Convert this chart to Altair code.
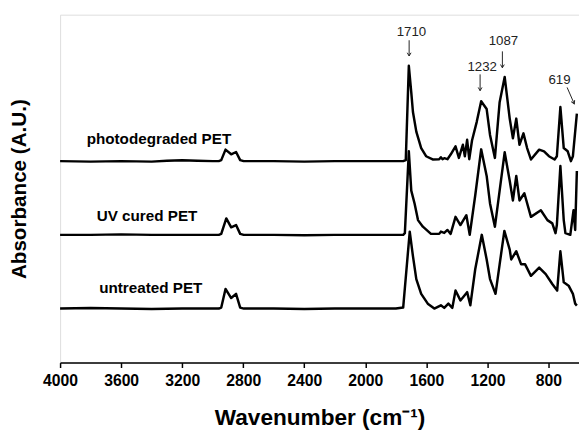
import altair as alt
import pandas as pd

FONT = "Liberation Sans"

# ---- spectra (wavenumber in cm-1, absorbance offset in arbitrary units) ----
wn_photo = [4000, 3800, 3600, 3400, 3300, 3200, 3100, 3000, 2960, 2944, 2916, 2879, 2847, 2820, 2797,
            2600, 2400, 2200, 2000, 1800, 1752, 1735, 1715, 1699, 1688, 1666, 1634, 1602, 1559, 1516,
            1505, 1494, 1483, 1462, 1441, 1409, 1387, 1361, 1348, 1333, 1319, 1301, 1270, 1241, 1205,
            1183, 1151, 1120, 1087, 1054, 1033, 1011, 990, 964, 940, 915, 861, 829, 797, 760, 745,
            722, 700, 674, 653, 640, 614]
abs_photo = [2.05, 2.045, 2.05, 2.045, 2.055, 2.06, 2.055, 2.05, 2.05, 2.06, 2.167, 2.12, 2.143, 2.06, 2.05,
             2.05, 2.045, 2.05, 2.05, 2.05, 2.05, 2.06, 3.02, 2.75, 2.55, 2.35, 2.183, 2.10, 2.067, 2.07,
             2.09, 2.07, 2.08, 2.07, 2.117, 2.20, 2.083, 2.217, 2.10, 2.267, 2.07, 2.26, 2.45, 2.66, 2.58,
             2.317, 2.083, 2.65, 2.907, 2.483, 2.283, 2.483, 2.217, 2.333, 2.183, 2.067, 2.167, 2.15, 2.10,
             2.067, 2.10, 2.60, 2.183, 2.15, 2.05, 2.10, 2.533]

wn_uv = [4000, 3800, 3600, 3400, 3200, 3000, 2960, 2944, 2911, 2879, 2847, 2820, 2797, 2600, 2400,
         2200, 2000, 1800, 1752, 1741, 1715, 1699, 1677, 1655, 1623, 1570, 1516, 1505, 1483, 1462,
         1441, 1409, 1377, 1338, 1316, 1280, 1241, 1205, 1183, 1151, 1120, 1087, 1054, 1033, 1011,
         990, 958, 915, 850, 807, 775, 754, 745, 722, 700, 689, 657, 636, 625, 614]
abs_uv = [1.30, 1.30, 1.305, 1.30, 1.30, 1.30, 1.30, 1.31, 1.467, 1.377, 1.40, 1.31, 1.30, 1.30, 1.295,
          1.30, 1.30, 1.30, 1.30, 1.317, 2.15, 1.75, 1.617, 1.45, 1.383, 1.31, 1.31, 1.333, 1.32, 1.35,
          1.31, 1.483, 1.40, 1.50, 1.30, 1.70, 2.17, 1.90, 1.62, 1.383, 1.75, 2.14, 1.85, 1.65, 1.90,
          1.65, 1.723, 1.483, 1.55, 1.45, 1.417, 1.317, 1.40, 2.00, 1.45, 1.317, 1.30, 1.55, 1.35, 1.95]

wn_untreated = [4000, 3800, 3600, 3400, 3200, 3000, 2960, 2944, 2916, 2879, 2847, 2820, 2796, 2600, 2400,
                2200, 2000, 1800, 1752, 1709, 1688, 1666, 1634, 1591, 1548, 1505, 1483, 1456, 1430,
                1409, 1377, 1333, 1312, 1280, 1237, 1205, 1183, 1147, 1120, 1089, 1054, 1044, 1011,
                979, 953, 915, 861, 818, 775, 743, 722, 700, 668, 640, 625, 614]
abs_untreated = [0.55, 0.555, 0.55, 0.545, 0.55, 0.55, 0.55, 0.56, 0.75, 0.657, 0.70, 0.56, 0.55, 0.55, 0.545,
                 0.55, 0.55, 0.55, 0.56, 1.333, 1.083, 0.85, 0.70, 0.60, 0.55, 0.583, 0.557, 0.60, 0.557,
                 0.733, 0.633, 0.717, 0.583, 0.95, 1.30, 1.05, 0.85, 0.70, 1.00, 1.34, 1.15, 1.05, 1.133,
                 1.00, 1.00, 0.883, 0.967, 0.90, 0.80, 0.733, 1.133, 0.817, 0.783, 0.70, 0.60, 0.58]

series_names = ["photodegraded PET", "UV cured PET", "untreated PET"]

# ---- series labels ----
label_text = ["photodegraded PET", "UV cured PET", "untreated PET"]
label_wn = [3826, 3760, 3744]
label_abs = [2.22, 1.44, 0.71]

# ---- peak annotations ----
peak_text = ["1710", "1232", "1087", "619"]
peak_text_wn = [1698, 1234, 1095, 728]
peak_text_abs = [3.32, 2.97, 3.233, 2.84]
arrow_wn1 = [1713, 1248, 1102, 678]
arrow_abs1 = [3.28, 2.933, 3.167, 2.80]
arrow_wn2 = [1713, 1248, 1102, 631]
arrow_abs2 = [3.12, 2.767, 3.00, 2.633]
arrow_angle = [0, 0, 0, 336]

rows = []
for name, ws, vs in zip(series_names, [wn_photo, wn_uv, wn_untreated],
                        [abs_photo, abs_uv, abs_untreated]):
    for w, v in zip(ws, vs):
        rows.append({"series": name, "wavenumber": w, "absorbance": v})
df = pd.DataFrame(rows)

df_labels = pd.DataFrame({"text": label_text, "wavenumber": label_wn, "absorbance": label_abs})
df_peaks = pd.DataFrame({"text": peak_text, "wavenumber": peak_text_wn, "absorbance": peak_text_abs})
df_arrows = pd.DataFrame({"wavenumber": arrow_wn1, "absorbance": arrow_abs1,
                          "wavenumber2": arrow_wn2, "absorbance2": arrow_abs2,
                          "angle": arrow_angle})

x_scale = alt.Scale(domain=[4000, 600], nice=False, zero=False)
y_scale = alt.Scale(domain=[0, 3.54], nice=False, zero=False)

x_axis = alt.Axis(values=[4000, 3600, 3200, 2800, 2400, 2000, 1600, 1200, 800],
                  format="d", grid=False, domain=True, domainColor="black", domainWidth=1.5,
                  ticks=True, tickColor="black", tickWidth=1.5, tickSize=5,
                  labelFont=FONT, labelFontSize=16, labelFontWeight="bold", labelColor="black",
                  labelPadding=5, labelFlush=False, labelOverlap=False,
                  titleFont=FONT, titleFontSize=23, titleFontWeight="bold", titleColor="black",
                  titlePadding=19)
y_axis = alt.Axis(labels=False, ticks=False, grid=False, domain=False,
                  titleFont=FONT, titleFontSize=21, titleFontWeight="bold", titleColor="black",
                  titlePadding=31)

X = alt.X("wavenumber:Q", scale=x_scale, axis=x_axis, title="Wavenumber (cm⁻¹)")
Y = alt.Y("absorbance:Q", scale=y_scale, axis=y_axis, title="Absorbance (A.U.)")

lines = alt.Chart(df).mark_line(color="black", strokeWidth=2.5, strokeJoin="round").encode(
    x=X, y=Y, detail="series:N"
)

labels = alt.Chart(df_labels).mark_text(
    align="left", baseline="alphabetic", font=FONT, fontSize=15.5, fontWeight="bold", color="black"
).encode(x=X, y=Y, text="text:N")

peaks = alt.Chart(df_peaks).mark_text(
    align="center", baseline="alphabetic", font=FONT, fontSize=13.5, color="#222222"
).encode(x=X, y=Y, text="text:N")

arrows = alt.Chart(df_arrows).mark_rule(color="#222222", strokeWidth=1).encode(
    x=X, y=Y, x2="wavenumber2:Q", y2="absorbance2:Q"
)

heads = alt.Chart(df_arrows).mark_point(
    shape="M -0.7 -1.2 L 0 0 L 0.7 -1.2", filled=False, color="#222222", strokeWidth=1,
    size=30, opacity=1
).encode(
    x=alt.X("wavenumber2:Q", scale=x_scale, axis=x_axis, title="Wavenumber (cm⁻¹)"),
    y=alt.Y("absorbance2:Q", scale=y_scale, axis=y_axis, title="Absorbance (A.U.)"),
    angle=alt.Angle("angle:Q", scale=None),
)

chart = alt.layer(lines, labels, peaks, arrows, heads).properties(
    width=528, height=354,
    autosize=alt.AutoSizeParams(type="none"),
    padding={"left": 53, "top": 3, "right": 0, "bottom": 80},
).configure_view(stroke="black", strokeWidth=1.5).configure(background="white")

chart.save("out.html", embed_options={"renderer": "svg", "actions": False})
